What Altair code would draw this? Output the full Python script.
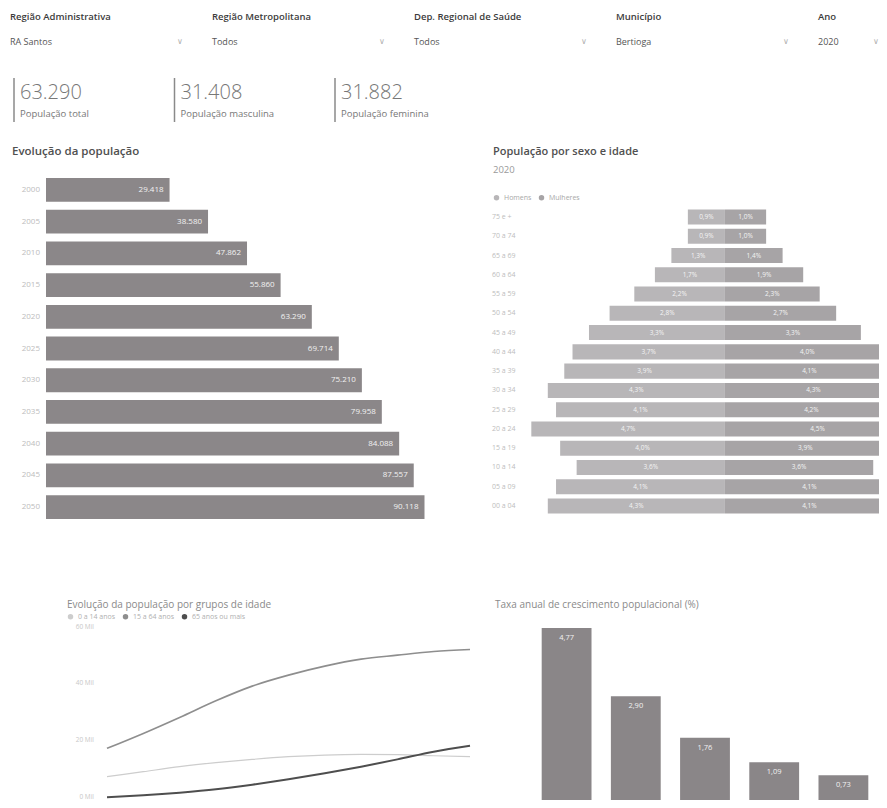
import altair as alt
import pandas as pd

FONT = "Open Sans"
W, H = 871, 792

# ---------------- data ----------------
slicer_titles = ["Região Administrativa", "Região Metropolitana", "Dep. Regional de Saúde", "Município", "Ano"]
slicer_values = ["RA Santos", "Todos", "Todos", "Bertioga", "2020"]

kpi_values = [63290, 31408, 31882]
kpi_labels = ["População total", "População masculina", "População feminina"]

evo_years = ["2000", "2005", "2010", "2015", "2020", "2025", "2030", "2035", "2040", "2045", "2050"]
evo_pop = [29418, 38580, 47862, 55860, 63290, 69714, 75210, 79958, 84088, 87557, 90118]

ages = ["75 e +", "70 a 74", "65 a 69", "60 a 64", "55 a 59", "50 a 54", "45 a 49", "40 a 44",
        "35 a 39", "30 a 34", "25 a 29", "20 a 24", "15 a 19", "10 a 14", "05 a 09", "00 a 04"]
men_pct = [0.9, 0.9, 1.3, 1.7, 2.2, 2.8, 3.3, 3.7, 3.9, 4.3, 4.1, 4.7, 4.0, 3.6, 4.1, 4.3]
women_pct = [1.0, 1.0, 1.4, 1.9, 2.3, 2.7, 3.3, 4.0, 4.1, 4.3, 4.2, 4.5, 3.9, 3.6, 4.1, 4.1]

line_years = [2000, 2005, 2010, 2015, 2020, 2025, 2030, 2035, 2040, 2045, 2050]
pop_0_14 = [8910, 10670, 12430, 13840, 15010, 15950, 16540, 16770, 16660, 16300, 15950]
pop_15_64 = [18890, 24160, 29790, 35660, 40820, 44690, 47860, 50320, 51730, 53020, 53720]
pop_65 = [1640, 2350, 3280, 4460, 6100, 7980, 10090, 12430, 15010, 17710, 19820]
group_names = ["0 a 14 anos", "15 a 64 anos", "65 anos ou mais"]
y_ticks = [0, 20000, 40000, 60000]

growth_periods = ["2000-2010", "2010-2020", "2020-2030", "2030-2040", "2040-2050"]
growth_rates = [4.77, 2.90, 1.76, 1.09, 0.73]

# ---------------- helpers ----------------
def txt(s, x, y, size, color, weight="normal"):
    return alt.Chart(pd.DataFrame({"t": [s]})).mark_text(
        align="left", baseline="middle", font=FONT, fontSize=size, color=color, fontWeight=weight
    ).encode(x=alt.value(x), y=alt.value(y), text="t:N")

layers = []

# ---------------- slicers ----------------
sl = pd.DataFrame({"i": list(range(len(slicer_titles))), "title": slicer_titles, "value": slicer_values})
sx = alt.X("i:Q", scale=alt.Scale(domain=[0, 4], range=[2, 810], nice=False, zero=False), axis=None)
layers.append(alt.Chart(sl).mark_text(align="left", baseline="middle", font=FONT, fontSize=9.5,
                                      fontWeight=600, color="#3c3c3c").encode(x=sx, y=alt.value(9), text="title:N"))
layers.append(alt.Chart(sl).mark_text(align="left", baseline="middle", font=FONT, fontSize=9,
                                      color="#555555").encode(x=sx, y=alt.value(34), text="value:N"))
layers.append(alt.Chart(sl).transform_filter("datum.i < 4").mark_text(
    text="∨", dx=170, baseline="middle", fontSize=8, color="#b0b0b0").encode(x=sx, y=alt.value(34)))
layers.append(alt.Chart(sl).transform_filter("datum.i == 4").mark_text(
    text="∨", dx=58, baseline="middle", fontSize=8, color="#b0b0b0").encode(x=sx, y=alt.value(34)))

# ---------------- KPI cards ----------------
kp = pd.DataFrame({"i": [0, 1, 2], "v": kpi_values, "label": kpi_labels})
kx = alt.X("i:Q", scale=alt.Scale(domain=[0, 2], range=[6, 327], nice=False, zero=False), axis=None)
layers.append(alt.Chart(kp).mark_rule(color="#8a8a8a", strokeWidth=1.5).encode(
    x=kx, y=alt.value(70), y2=alt.value(114)))
layers.append(alt.Chart(kp).transform_calculate(t="replace(format(datum.v, ','), ',', '.')").mark_text(
    align="left", baseline="middle", dx=6, font=FONT, fontSize=20, fontWeight=300, color="#777777"
).encode(x=kx, y=alt.value(85), text="t:N"))
layers.append(alt.Chart(kp).mark_text(
    align="left", baseline="middle", dx=6, font=FONT, fontSize=9.5, color="#777777"
).encode(x=kx, y=alt.value(106), text="label:N"))

# ---------------- Evolução da população ----------------
layers.append(txt("Evolução da população", 4, 144, 11.5, "#505050", 600))
evo = pd.DataFrame({"year": evo_years, "pop": evo_pop})
ex = alt.X("pop:Q", scale=alt.Scale(domain=[0, 95000], range=[38, 437], nice=False, zero=True), axis=None)
ey = alt.Y("year:N", sort=evo_years, scale=alt.Scale(domain=evo_years, range=[166, 515],
                                                      paddingInner=0.25, paddingOuter=0.125), axis=None)
layers.append(alt.Chart(evo).mark_bar(color="#8b8789").encode(x=ex, y=ey))
layers.append(alt.Chart(evo).transform_calculate(t="replace(format(datum.pop, ','), ',', '.')").mark_text(
    align="right", baseline="middle", dx=-6, font=FONT, fontSize=8, color="#f2f2f2"
).encode(x=ex, y=ey, text="t:N"))
layers.append(alt.Chart(evo).mark_text(align="right", baseline="middle", font=FONT, fontSize=8,
                                       color="#bdbdbd").encode(x=alt.value(32), y=ey, text="year:N"))

# ---------------- Pirâmide ----------------
layers.append(txt("População por sexo e idade", 485, 144, 11, "#505050", 600))
layers.append(txt("2020", 485, 162, 9.5, "#9a9a9a"))
pyr = pd.DataFrame({
    "age": ages + ages,
    "sex": ["Homens"] * len(ages) + ["Mulheres"] * len(ages),
    "pct": men_pct + women_pct,
})
pyr_t = alt.Chart(pyr).transform_calculate(
    signed="datum.sex == 'Homens' ? -datum.pct : datum.pct",
    half="(datum.sex == 'Homens' ? -datum.pct : datum.pct) / 2",
    zero="0",
    lab="replace(format(datum.pct, '.1f'), '.', ',') + '%'",
)
px = alt.X("signed:Q", scale=alt.Scale(domain=[-4.8, 3.74], range=[519.2, 871], nice=False,
                                       zero=False, clamp=True), axis=None)
py = alt.Y("age:N", sort=ages, scale=alt.Scale(domain=ages, range=[199.4, 507.6],
                                               paddingInner=0.22, paddingOuter=0.11), axis=None)
pcol = alt.Color("sex:N", scale=alt.Scale(domain=["Homens", "Mulheres"], range=["#b8b6b8", "#a7a4a6"]),
                 legend=alt.Legend(orient="none", legendX=485, legendY=186, direction="horizontal",
                                   title=None, labelFont=FONT, labelFontSize=7, labelColor="#a8a8a8",
                                   symbolType="circle", symbolSize=30, columnPadding=6, padding=0))
layers.append(pyr_t.mark_bar().encode(x=px, x2=alt.X2("zero:Q"), y=py, color=pcol))
layers.append(pyr_t.mark_text(align="center", baseline="middle", font=FONT, fontSize=6.5, color="#f4f4f4").encode(
    x=alt.X("half:Q", scale=alt.Scale(domain=[-4.8, 3.74], range=[519.2, 871], nice=False, zero=False), axis=None),
    y=py, text="lab:N"))
ages_df = pd.DataFrame({"age": ages})
layers.append(alt.Chart(ages_df).mark_text(align="left", baseline="middle", font=FONT, fontSize=7,
                                           color="#bdbdbd").encode(x=alt.value(484), y=py, text="age:N"))

# ---------------- Evolução por grupos de idade ----------------
layers.append(txt("Evolução da população por grupos de idade", 59, 597, 10, "#8a8a8a"))
ln = pd.DataFrame({
    "year": line_years * 3,
    "group": [group_names[0]] * 11 + [group_names[1]] * 11 + [group_names[2]] * 11,
    "pop": pop_0_14 + pop_15_64 + pop_65,
})
lx = alt.X("year:Q", scale=alt.Scale(domain=[2000, 2050], range=[99, 462], nice=False, zero=False), axis=None)
ly = alt.Y("pop:Q", scale=alt.Scale(domain=[0, 62000], range=[794, 618], nice=False, zero=False), axis=None)
line_colors = ["#cdcdcd", "#8e8e8e", "#4e4e4e"]
lw = alt.StrokeWidth("group:N", scale=alt.Scale(domain=group_names, range=[1.2, 2.0, 2.6]), legend=None)
layers.append(alt.Chart(ln).mark_line(interpolate="monotone").encode(
    x=lx, y=ly, strokeWidth=lw, detail="group:N",
    color=alt.Color("group:N", scale=alt.Scale(domain=group_names, range=line_colors), legend=None)))
# legend for the line chart (filled dots), drawn by the library's legend
grp_df = pd.DataFrame({"group": group_names})
layers.append(alt.Chart(grp_df).mark_circle(opacity=1).encode(
    x=alt.value(-100), y=alt.value(-100),
    color=alt.Color("group:N", scale=alt.Scale(domain=group_names, range=line_colors),
                    legend=alt.Legend(orient="none", legendX=59, legendY=605, direction="horizontal",
                                      title=None, labelFont=FONT, labelFontSize=7, labelColor="#b0b0b0",
                                      symbolType="circle", symbolSize=30, columnPadding=6, padding=0))))
tk = pd.DataFrame({"pop": y_ticks})
layers.append(alt.Chart(tk).transform_calculate(t="(datum.pop / 1000) + ' Mil'").mark_text(
    align="right", baseline="middle", dy=-5, font=FONT, fontSize=6.5, color="#c8c8c8"
).encode(x=alt.value(86), y=ly, text="t:N"))

# ---------------- Taxa anual de crescimento ----------------
layers.append(txt("Taxa anual de crescimento populacional (%)", 487, 597, 10, "#8a8a8a"))
gr = pd.DataFrame({"period": growth_periods, "rate": growth_rates})
gx = alt.X("period:N", sort=growth_periods, scale=alt.Scale(domain=growth_periods, range=[524, 870],
                                                            paddingInner=0.28, paddingOuter=0.14), axis=None)
gy = alt.Y("rate:Q", scale=alt.Scale(domain=[0, 5], range=[794, 611.5], nice=False, zero=True), axis=None)
layers.append(alt.Chart(gr).mark_bar(color="#8a8688").encode(x=gx, y=gy))
layers.append(alt.Chart(gr).transform_calculate(t="replace(format(datum.rate, '.2f'), '.', ',')").mark_text(
    align="center", baseline="top", dy=6, font=FONT, fontSize=7.5, color="#f2f2f2"
).encode(x=gx, y=gy, text="t:N"))

chart = alt.layer(*layers).resolve_scale(
    x="independent", y="independent", color="independent", strokeWidth="independent"
).resolve_legend(color="independent").properties(
    width=W, height=H, padding=0, autosize=alt.AutoSizeParams(type="none"),
    background="white"
).configure_view(stroke=None)

chart.save("out.html", embed_options={"renderer": "svg", "actions": False})
